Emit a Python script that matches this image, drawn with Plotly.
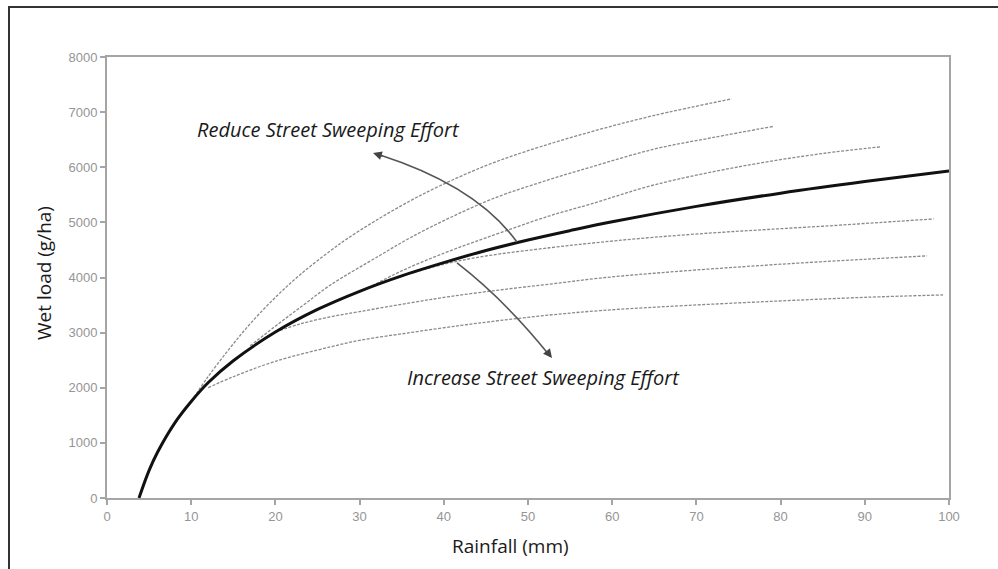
import plotly.graph_objects as go

# ---- data ----
main_x = [3.8, 5, 6, 8, 10, 12, 15, 20, 25, 30, 35, 40, 45, 50, 55, 60, 70, 80, 90, 100]
main_y = [0, 500, 830, 1350, 1750, 2090, 2490, 3010, 3420, 3750, 4030, 4270, 4490, 4680, 4850, 5010, 5290, 5530, 5740, 5930]

c1_x = [10, 12, 14.6, 17, 20, 23, 26.5, 28.5, 32, 36, 39.5, 45, 50, 57.4, 65, 74.2]
c1_y = [1750, 2200, 2720, 3160, 3640, 4060, 4480, 4700, 5040, 5390, 5660, 6030, 6300, 6640, 6940, 7240]

c2_x = [17, 20.5, 23.5, 26.5, 32.4, 36, 40.7, 46, 52.6, 57.4, 65, 72, 79.1]
c2_y = [2760, 3176, 3520, 3860, 4400, 4720, 5082, 5440, 5780, 6000, 6330, 6540, 6740]

c3_x = [31, 35, 40, 45, 52.6, 57.4, 65, 75.2, 85, 91.9]
c3_y = [3810, 4120, 4440, 4720, 5120, 5330, 5680, 6013, 6250, 6370]

c4_x = [34, 40, 45, 52.6, 58.6, 65, 72, 78.3, 85, 92, 98.2]
c4_y = [3980, 4240, 4390, 4540, 4640, 4730, 4810, 4870, 4930, 5000, 5063]

c5_x = [20, 23, 26.5, 30, 36, 40.7, 46.7, 52.6, 58.6, 66, 74, 82, 90, 97.4]
c5_y = [3010, 3160, 3285, 3381, 3540, 3654, 3775, 3880, 3990, 4090, 4180, 4260, 4330, 4392]

c6_x = [12, 15, 20, 26.5, 30, 36, 42, 46.7, 52.6, 58.6, 66, 78.3, 90, 99.3]
c6_y = [2000, 2200, 2480, 2740, 2860, 3000, 3130, 3220, 3320, 3400, 3470, 3563, 3640, 3684]

x_ticks = [0, 10, 20, 30, 40, 50, 60, 70, 80, 90, 100]
y_ticks = [0, 1000, 2000, 3000, 4000, 5000, 6000, 7000, 8000]

x_title = "Rainfall (mm)"
y_title = "Wet load (g/ha)"
label_reduce = "Reduce Street Sweeping Effort"
label_increase = "Increase Street Sweeping Effort"

# ---- layout geometry ----
W, H = 998, 569
L, R, T, B = 107, 49, 57, 71
PW, PH = W - L - R, H - T - B


def px(xp):
    return (xp - L) / PW


def py(yp):
    return (H - B - yp) / PH


fig = go.Figure()
gray_curves = [(c1_x, c1_y), (c2_x, c2_y), (c3_x, c3_y), (c4_x, c4_y), (c5_x, c5_y), (c6_x, c6_y)]
for cx, cy in gray_curves:
    fig.add_trace(go.Scatter(x=cx, y=cy, mode="lines", line_shape="spline",
                             line=dict(color="#8a8a8a", width=1.3, dash="3px,1.5px"),
                             hoverinfo="skip", showlegend=False))
fig.add_trace(go.Scatter(x=main_x, y=main_y, mode="lines", line_shape="spline",
                         line=dict(color="#111111", width=3),
                         hoverinfo="skip", showlegend=False))

axis_common = dict(showline=True, linecolor="#a5a5a5", linewidth=2, mirror=True,
                   ticks="outside", ticklen=5, tickcolor="#a5a5a5", tickwidth=1.5,
                   showgrid=False, zeroline=False,
                   tickfont=dict(family="Liberation Sans, Arial", size=13, color="#959595"))

fig.update_xaxes(range=[0, 100], tickvals=x_ticks, **axis_common)
fig.update_yaxes(range=[0, 8000], tickvals=y_ticks, **axis_common)


def qpath(p0, c, p2):
    return "M {:.4f},{:.4f} Q {:.4f},{:.4f} {:.4f},{:.4f}".format(
        px(p0[0]), py(p0[1]), px(c[0]), py(c[1]), px(p2[0]), py(p2[1]))


shapes = [
    # outer frame (right and bottom edges run off the picture)
    dict(type="rect", xref="paper", yref="paper", x0=px(9), x1=px(1015), y0=py(7), y1=py(585),
         line=dict(color="#333333", width=2), fillcolor="rgba(0,0,0,0)", layer="below"),
    dict(type="path", xref="paper", yref="paper", path=qpath((517, 242), (476.5, 186), (380, 155)),
         line=dict(color="#555555", width=1.6)),
    dict(type="path", xref="paper", yref="paper", path=qpath((457, 263), (506, 301), (550, 356)),
         line=dict(color="#555555", width=1.6)),
]

title_font = dict(family="Open Sans", size=19, color="#1a1a1a")
label_font = dict(family="Open Sans", size=20, color="#1a1a1a")

annotations = [
    dict(xref="paper", yref="paper", x=px(373), y=py(153), text="", showarrow=True,
         arrowhead=2, arrowsize=1.1, arrowwidth=1.6, arrowcolor="#444444", ax=11, ay=3.5),
    dict(xref="paper", yref="paper", x=px(552), y=py(358), text="", showarrow=True,
         arrowhead=2, arrowsize=1.1, arrowwidth=1.6, arrowcolor="#444444", ax=-6.5, ay=-8.2),
    dict(xref="paper", yref="paper", x=px(328), y=py(129), text="<i>" + label_reduce + "</i>",
         showarrow=False, xanchor="center", yanchor="middle", font=label_font),
    dict(xref="paper", yref="paper", x=px(543), y=py(377), text="<i>" + label_increase + "</i>",
         showarrow=False, xanchor="center", yanchor="middle", font=label_font),
    dict(xref="paper", yref="paper", x=px(510), y=py(546), text=x_title,
         showarrow=False, xanchor="center", yanchor="middle", font=title_font),
    dict(xref="paper", yref="paper", x=px(44), y=py(273), text=y_title, textangle=-90,
         showarrow=False, xanchor="center", yanchor="middle", font=title_font),
]

fig.update_layout(width=W, height=H, margin=dict(l=L, r=R, t=T, b=B, autoexpand=False),
                  paper_bgcolor="white", plot_bgcolor="white",
                  shapes=shapes, annotations=annotations, showlegend=False)

fig.write_html("out.html")
